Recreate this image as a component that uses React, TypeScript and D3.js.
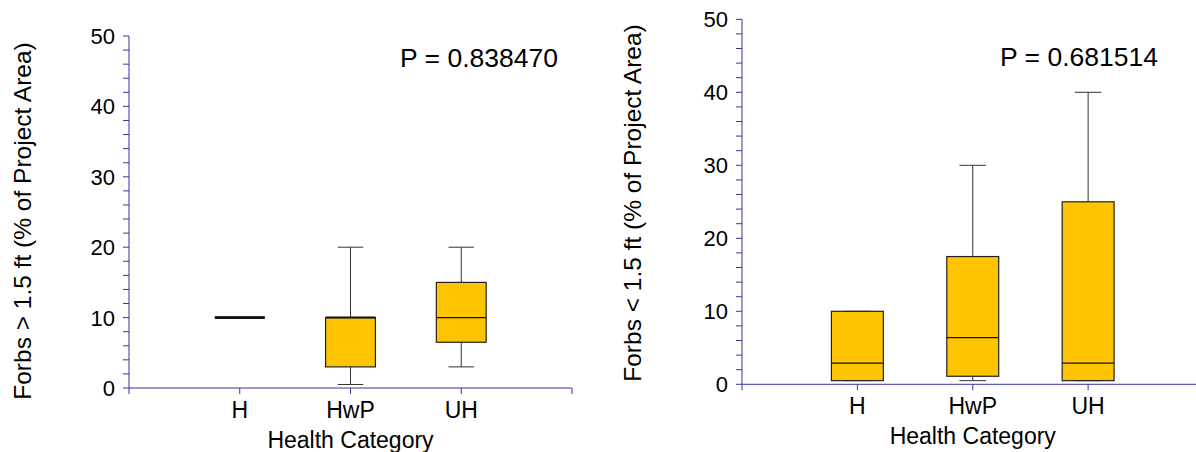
import React from "react";
import * as d3 from "d3";

// Health categories shared by both panels
const categories = ["H", "HwP", "UH"];
const yTicks = [0, 10, 20, 30, 40, 50];

// Forbs taller than 1.5 ft: box-plot summaries per category
const tallLow = [10, 0.5, 3];
const tallQ1 = [10, 3, 6.5];
const tallMedian = [10, 10, 10];
const tallQ3 = [10, 10, 15];
const tallHigh = [10, 20, 20];

// Forbs shorter than 1.5 ft: box-plot summaries per category
const shortLow = [0.5, 0.5, 0.5];
const shortQ1 = [0.5, 1.1, 0.5];
const shortMedian = [2.9, 6.4, 2.9];
const shortQ3 = [10, 17.5, 25];
const shortHigh = [10, 30, 40];

const FONT = "'Liberation Sans', Arial, Helvetica, sans-serif";
const AXIS = "#3535a0";
const BOX_FILL = "#FFC400";

type PanelProps = {
  left: number;
  right: number;
  top: number;
  bottom: number;
  yLabel: string;
  pText: string;
  pX: number;
  pY: number;
  yLabelX: number;
  yLabelY: number;
  low: number[];
  q1: number[];
  median: number[];
  q3: number[];
  high: number[];
};

function Panel(p: PanelProps) {
  const x = d3.scaleLinear().domain([0, 4]).range([p.left, p.right]);
  const y = d3.scaleLinear().domain([0, 50]).range([p.bottom, p.top]);
  const step = x(1) - x(0);
  const boxW = step * 0.45;
  const capW = step * 0.23;
  const minor = d3.range(0, 50.001, 2);

  return (
    <g>
      {/* y axis */}
      <line x1={p.left} x2={p.left} y1={y(0)} y2={y(50)} stroke={AXIS} strokeWidth={1} />
      {minor.map((v) => (
        <line key={"m" + v} x1={p.left - 6} x2={p.left} y1={y(v)} y2={y(v)} stroke={AXIS} strokeWidth={1} />
      ))}
      {yTicks.map((v) => (
        <text
          key={"t" + v}
          x={p.left - 14}
          y={y(v)}
          dy="0.36em"
          textAnchor="end"
          fontSize={22}
          fontFamily={FONT}
          fill="#000"
        >
          {v}
        </text>
      ))}
      {/* x axis */}
      <line x1={p.left} x2={p.right} y1={p.bottom} y2={p.bottom} stroke={AXIS} strokeWidth={1} />
      {[0, 1, 2, 3, 4].map((v) => (
        <line key={"x" + v} x1={x(v)} x2={x(v)} y1={p.bottom} y2={p.bottom + 6} stroke={AXIS} strokeWidth={1} />
      ))}
      {categories.map((c, i) => (
        <text
          key={c}
          x={x(i + 1)}
          y={p.bottom + 30}
          textAnchor="middle"
          fontSize={23}
          fontFamily={FONT}
          fill="#000"
        >
          {c}
        </text>
      ))}
      <text
        x={x(2)}
        y={p.bottom + 60}
        textAnchor="middle"
        fontSize={23}
        fontFamily={FONT}
        fill="#000"
      >
        Health Category
      </text>
      <text
        transform={`translate(${p.yLabelX},${p.yLabelY}) rotate(-90)`}
        textAnchor="middle"
        fontSize={24.5}
        fontFamily={FONT}
        fill="#000"
      >
        {p.yLabel}
      </text>
      <text x={p.pX} y={p.pY} fontSize={26.5} fontFamily={FONT} fill="#000">
        {p.pText}
      </text>
      {/* boxes */}
      {categories.map((c, i) => {
        const cx = x(i + 1);
        const flat = p.q1[i] === p.q3[i];
        return (
          <g key={"b" + c}>
            <line x1={cx} x2={cx} y1={y(p.high[i])} y2={y(p.q3[i])} stroke="#333" strokeWidth={1} />
            <line x1={cx} x2={cx} y1={y(p.q1[i])} y2={y(p.low[i])} stroke="#333" strokeWidth={1} />
            <line x1={cx - capW / 2} x2={cx + capW / 2} y1={y(p.high[i])} y2={y(p.high[i])} stroke="#333" strokeWidth={1} />
            <line x1={cx - capW / 2} x2={cx + capW / 2} y1={y(p.low[i])} y2={y(p.low[i])} stroke="#333" strokeWidth={1} />
            {flat ? (
              <line
                x1={cx - boxW / 2}
                x2={cx + boxW / 2}
                y1={y(p.q3[i])}
                y2={y(p.q3[i])}
                stroke="#111"
                strokeWidth={2.6}
              />
            ) : (
              <rect
                x={cx - boxW / 2}
                y={y(p.q3[i])}
                width={boxW}
                height={y(p.q1[i]) - y(p.q3[i])}
                fill={BOX_FILL}
                stroke="#222"
                strokeWidth={1.2}
              />
            )}
            <line
              x1={cx - boxW / 2}
              x2={cx + boxW / 2}
              y1={y(p.median[i])}
              y2={y(p.median[i])}
              stroke="#111"
              strokeWidth={p.median[i] === p.q3[i] ? 2 : 1.2}
            />
          </g>
        );
      })}
    </g>
  );
}

export default function App() {
  return (
    <svg
      width={1196}
      height={452}
      style={{ position: "absolute", left: 0, top: 0, background: "#fff" }}
    >
      <rect width={1196} height={452} fill="#fff" />
      <Panel
        left={129}
        right={572}
        top={36}
        bottom={388}
        yLabel="Forbs > 1.5 ft (% of Project Area)"
        pText="P = 0.838470"
        pX={400}
        pY={67}
        yLabelX={31}
        yLabelY={221}
        low={tallLow}
        q1={tallQ1}
        median={tallMedian}
        q3={tallQ3}
        high={tallHigh}
      />
      <Panel
        left={742}
        right={1203.5}
        top={19.3}
        bottom={384.3}
        yLabel="Forbs < 1.5 ft (% of Project Area)"
        pText="P = 0.681514"
        pX={1000}
        pY={66}
        yLabelX={641}
        yLabelY={203}
        low={shortLow}
        q1={shortQ1}
        median={shortMedian}
        q3={shortQ3}
        high={shortHigh}
      />
    </svg>
  );
}
